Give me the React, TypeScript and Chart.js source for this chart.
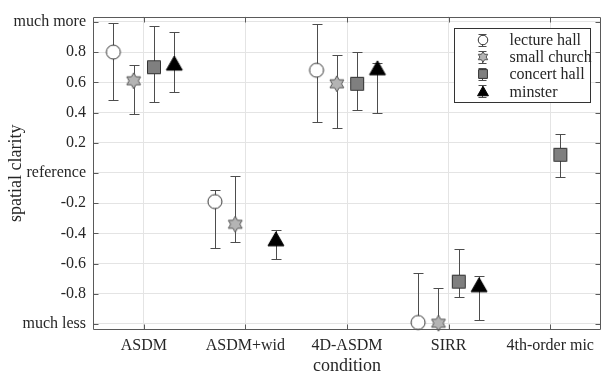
import { useEffect, useRef } from "react";
import { Chart, registerables } from "chart.js";

Chart.register(...registerables);

// ---- data ----
const categories = ["ASDM", "ASDM+wid", "4D-ASDM", "SIRR", "4th-order mic"];
const seriesNames = ["lecture hall", "small church", "concert hall", "minster"];
const seriesOffsets = [-0.3, -0.1, 0.1, 0.3];

const lectureHall = [0.8, -0.19, 0.68, -0.99, null];
const lectureHallLow = [0.48, -0.5, 0.34, -1.0, null];
const lectureHallHigh = [0.99, -0.11, 0.985, -0.66, null];

const smallChurch = [0.61, -0.34, 0.59, -0.995, null];
const smallChurchLow = [0.39, -0.46, 0.3, -1.0, null];
const smallChurchHigh = [0.715, -0.02, 0.78, -0.76, null];

const concertHall = [0.7, null, 0.59, -0.72, 0.12];
const concertHallLow = [0.47, null, 0.415, -0.82, -0.03];
const concertHallHigh = [0.975, null, 0.8, -0.505, 0.26];

const minster = [0.727, -0.436, 0.696, -0.74, null];
const minsterLow = [0.535, -0.57, 0.4, -0.975, null];
const minsterHigh = [0.93, -0.38, 0.73, -0.68, null];

const yTickValues = [-1, -0.8, -0.6, -0.4, -0.2, 0, 0.2, 0.4, 0.6, 0.8, 1];
const yTickLabels = ["much less", "-0.8", "-0.6", "-0.4", "-0.2", "reference", "0.2", "0.4", "0.6", "0.8", "much more"];

const FONT = "'Liberation Serif', 'Times New Roman', serif";
const TEXT = "#262626";
const AXIS = "#5a5a5a";

type Kind = "circle" | "hexagram" | "square" | "triangle";
const kinds: Kind[] = ["circle", "hexagram", "square", "triangle"];

function makeMarker(kind: Kind, scale: number): HTMLCanvasElement {
  const size = Math.ceil(20 * scale);
  const c = document.createElement("canvas");
  c.width = size;
  c.height = size;
  const g = c.getContext("2d")!;
  const cx = size / 2;
  const cy = size / 2;
  g.lineWidth = 1;
  g.beginPath();
  if (kind === "circle") {
    g.arc(cx, cy, 7 * scale, 0, Math.PI * 2);
    g.fillStyle = "#ffffff";
    g.strokeStyle = "#333333";
  } else if (kind === "hexagram") {
    const R = 8 * scale;
    const r = R / Math.sqrt(3);
    for (let i = 0; i < 12; i++) {
      const a = -Math.PI / 2 + (i * Math.PI) / 6;
      const rad = i % 2 === 0 ? R : r;
      const px = cx + rad * Math.cos(a);
      const py = cy + rad * Math.sin(a);
      if (i === 0) g.moveTo(px, py);
      else g.lineTo(px, py);
    }
    g.closePath();
    g.fillStyle = "#b4b4b4";
    g.strokeStyle = "#555555";
  } else if (kind === "square") {
    const h = 6.5 * scale;
    g.rect(cx - h, cy - h, 2 * h, 2 * h);
    g.fillStyle = "#7f7f7f";
    g.strokeStyle = "#333333";
  } else {
    const w = 8 * scale;
    const h = 7 * scale;
    g.moveTo(cx, cy - h);
    g.lineTo(cx + w, cy + h);
    g.lineTo(cx - w, cy + h);
    g.closePath();
    g.fillStyle = "#000000";
    g.strokeStyle = "#000000";
  }
  g.fill();
  g.stroke();
  return c;
}

function buildPoints(vals: (number | null)[], low: (number | null)[], high: (number | null)[], offset: number) {
  const pts: any[] = [];
  vals.forEach((v, i) => {
    if (v === null) return;
    pts.push({ x: i + 1 + offset, y: v, low: low[i], high: high[i] });
  });
  return pts;
}

const errorBarPlugin = {
  id: "errorBars",
  beforeDatasetsDraw(chart: any) {
    const { ctx, scales } = chart;
    const x = scales.x;
    const y = scales.y;
    ctx.save();
    ctx.strokeStyle = "#4d4d4d";
    ctx.lineWidth = 1;
    chart.data.datasets.forEach((ds: any) => {
      ds.data.forEach((p: any) => {
        if (p.low == null || p.high == null) return;
        const px = Math.round(x.getPixelForValue(p.x)) + 0.5;
        const yl = Math.round(y.getPixelForValue(p.low)) + 0.5;
        const yh = Math.round(y.getPixelForValue(p.high)) + 0.5;
        ctx.beginPath();
        ctx.moveTo(px, yl);
        ctx.lineTo(px, yh);
        ctx.moveTo(px - 5, yl);
        ctx.lineTo(px + 5, yl);
        ctx.moveTo(px - 5, yh);
        ctx.lineTo(px + 5, yh);
        ctx.stroke();
      });
    });
    ctx.restore();
  },
};

const framePlugin = {
  id: "frame",
  afterDatasetsDraw(chart: any) {
    const { ctx, chartArea, scales } = chart;
    const { left, right, top, bottom } = chartArea;
    const L = Math.round(left) + 0.5;
    const R = Math.round(right) - 0.5;
    const T = Math.round(top) + 0.5;
    const B = Math.round(bottom) - 0.5;
    ctx.save();
    ctx.strokeStyle = AXIS;
    ctx.lineWidth = 1;
    ctx.beginPath();
    ctx.moveTo(L, T);
    ctx.lineTo(R, T);
    ctx.lineTo(R, B);
    ctx.lineTo(L, B);
    ctx.closePath();
    const tl = 5;
    scales.y.ticks.forEach((t: any) => {
      const py = Math.round(scales.y.getPixelForValue(t.value)) + 0.5;
      ctx.moveTo(L, py);
      ctx.lineTo(L + tl, py);
      ctx.moveTo(R, py);
      ctx.lineTo(R - tl, py);
    });
    scales.x.ticks.forEach((t: any) => {
      const px = Math.round(scales.x.getPixelForValue(t.value)) + 0.5;
      ctx.moveTo(px, B);
      ctx.lineTo(px, B - tl);
      ctx.moveTo(px, T);
      ctx.lineTo(px, T + tl);
    });
    ctx.stroke();
    ctx.restore();
  },
};

function makeLegendPlugin(markers: HTMLCanvasElement[]) {
  return {
    id: "boxLegend",
    afterDraw(chart: any) {
      const { ctx, chartArea } = chart;
      const bx = Math.round(chartArea.right) - 146.5;
      const by = Math.round(chartArea.top) + 11.5;
      const bw = 136;
      const bh = 74;
      ctx.save();
      ctx.fillStyle = "#ffffff";
      ctx.strokeStyle = "#333333";
      ctx.lineWidth = 1;
      ctx.fillRect(bx, by, bw, bh);
      ctx.strokeRect(bx, by, bw, bh);
      ctx.font = `16px ${FONT}`;
      ctx.fillStyle = TEXT;
      ctx.textBaseline = "middle";
      ctx.textAlign = "left";
      seriesNames.forEach((name, i) => {
        const cy = by + 11 + i * 17.3;
        const mx = Math.round(bx + 27) + 0.5;
        ctx.strokeStyle = "#4d4d4d";
        ctx.beginPath();
        const yt = Math.round(cy - 6) + 0.5;
        const yb = Math.round(cy + 6) + 0.5;
        ctx.moveTo(mx, yt);
        ctx.lineTo(mx, yb);
        ctx.moveTo(mx - 4, yt);
        ctx.lineTo(mx + 4, yt);
        ctx.moveTo(mx - 4, yb);
        ctx.lineTo(mx + 4, yb);
        ctx.stroke();
        const m = markers[i];
        ctx.drawImage(m, Math.round(mx - m.width / 2), Math.round(cy - m.height / 2));
        ctx.fillText(name, bx + 55, cy + 1);
      });
      ctx.restore();
    },
  };
}

export default function App() {
  const ref = useRef<HTMLCanvasElement | null>(null);

  useEffect(() => {
    if (!ref.current) return;
    const big = kinds.map((k) => makeMarker(k, 1));
    const small = kinds.map((k) => makeMarker(k, 0.68));

    const seriesVals = [lectureHall, smallChurch, concertHall, minster];
    const seriesLow = [lectureHallLow, smallChurchLow, concertHallLow, minsterLow];
    const seriesHigh = [lectureHallHigh, smallChurchHigh, concertHallHigh, minsterHigh];

    const datasets = seriesNames.map((name, i) => ({
      label: name,
      data: buildPoints(seriesVals[i], seriesLow[i], seriesHigh[i], seriesOffsets[i]),
      pointStyle: big[i],
      pointRadius: 8,
      pointHoverRadius: 8,
      showLine: false,
      clip: false as any,
    }));

    const chart = new Chart(ref.current, {
      type: "scatter",
      data: { datasets },
      plugins: [errorBarPlugin, framePlugin, makeLegendPlugin(small)],
      options: {
        animation: false,
        responsive: false,
        maintainAspectRatio: false,
        events: [],
        layout: { padding: { left: 0, right: 2, top: 12, bottom: 0 } },
        plugins: {
          legend: { display: false },
          tooltip: { enabled: false },
        },
        scales: {
          x: {
            type: "linear",
            min: 0.5,
            max: 5.5,
            afterBuildTicks: (s: any) => {
              s.ticks = categories.map((_, i) => ({ value: i + 1 }));
            },
            afterFit: (s: any) => {
              s.height = 45;
            },
            ticks: {
              autoSkip: false,
              maxRotation: 0,
              padding: 6,
              color: TEXT,
              font: { family: FONT, size: 16 },
              callback: (v: any) => categories[Math.round(Number(v)) - 1] ?? "",
            },
            grid: { color: "#e4e4e4", drawTicks: false },
            border: { display: false },
            title: {
              display: true,
              text: "condition",
              color: TEXT,
              font: { family: FONT, size: 18, lineHeight: 1 },
              padding: 0,
            },
          },
          y: {
            type: "linear",
            min: -1.04,
            max: 1.035,
            afterBuildTicks: (s: any) => {
              s.ticks = yTickValues.map((v) => ({ value: v }));
            },
            afterFit: (s: any) => {
              s.width = 93;
            },
            ticks: {
              autoSkip: false,
              padding: 7,
              color: TEXT,
              font: { family: FONT, size: 16 },
              callback: (v: any) => {
                const idx = yTickValues.findIndex((t) => Math.abs(t - Number(v)) < 1e-6);
                return idx >= 0 ? yTickLabels[idx] : "";
              },
            },
            grid: { color: "#e4e4e4", drawTicks: false },
            border: { display: false },
            title: {
              display: true,
              text: "spatial clarity",
              color: TEXT,
              font: { family: FONT, size: 18, lineHeight: 1 },
              padding: { top: 7, bottom: 0 },
            },
          },
        },
      } as any,
    });
    return () => chart.destroy();
  }, []);

  return (
    <div style={{ position: "fixed", left: 0, top: 0, width: 610, height: 375, background: "#fff" }}>
      <canvas ref={ref} width={610} height={375} style={{ width: 610, height: 375, display: "block" }} />
    </div>
  );
}
